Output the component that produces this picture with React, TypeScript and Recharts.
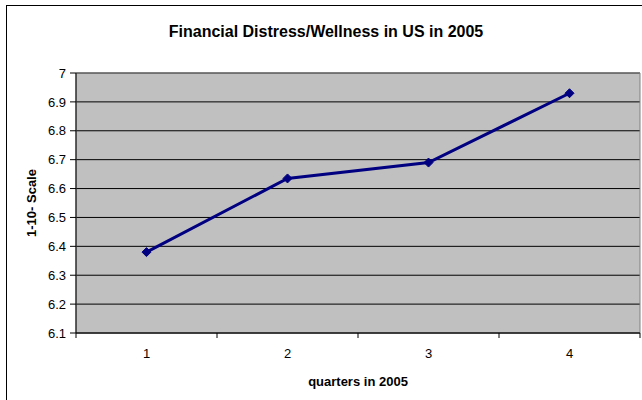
import { LineChart, Line, XAxis, YAxis, CartesianGrid, ReferenceArea } from 'recharts';

const quarters = [1, 2, 3, 4];
const scores = [6.38, 6.635, 6.69, 6.93];
const yTicks = [6.1, 6.2, 6.3, 6.4, 6.5, 6.6, 6.7, 6.8, 6.9, 7];
// category labels sit on the integers, tick marks between them (Excel style)
const xTicks = [0.5, 1, 1.5, 2, 2.5, 3, 3.5, 4, 4.5];

const data = quarters.map((q, i) => ({ quarter: q, score: scores[i] }));

const font = '"Liberation Sans", Arial, sans-serif';

function QuarterTick(props: any) {
  const { x, y, payload } = props;
  const v = payload.value;
  if (Number.isInteger(v)) {
    return (
      <text x={x} y={y + 25} textAnchor="middle" fontSize={13} fill="#000">
        {v}
      </text>
    );
  }
  return <line x1={x} x2={x} y1={y} y2={y + 5} stroke="#000" />;
}

function Diamond(props: any) {
  const { cx, cy } = props;
  if (cx == null || cy == null) return null;
  const r = 4.5;
  return (
    <polygon
      points={`${cx},${cy - r} ${cx + r},${cy} ${cx},${cy + r} ${cx - r},${cy}`}
      fill="#000080"
      stroke="#000080"
    />
  );
}

export default function App() {
  return (
    <div
      style={{
        position: 'fixed',
        left: 0,
        top: 0,
        width: 642,
        height: 400,
        overflow: 'hidden',
        background: '#fff',
        fontFamily: font,
      }}
    >
      <div
        style={{
          position: 'absolute',
          left: 6,
          top: 5,
          width: 700,
          height: 450,
          border: '1px solid #000',
        }}
      />
      <div
        style={{
          position: 'absolute',
          left: 0,
          top: 22,
          width: 652,
          textAlign: 'center',
          fontWeight: 'bold',
          fontSize: 16,
          lineHeight: '20px',
          color: '#000',
        }}
      >
        Financial Distress/Wellness in US in 2005
      </div>
      <div style={{ position: 'absolute', left: 0, top: 0 }}>
        <LineChart width={642} height={400} data={data} margin={{ top: 73, right: 2, bottom: 0, left: 0 }}>
          <CartesianGrid vertical={false} stroke="#000" fill="#C0C0C0" fillOpacity={1} />
          <ReferenceArea x1={0.5} x2={4.5} y1={6.1} y2={7} fill="none" stroke="#808080" />
          <XAxis
            type="number"
            dataKey="quarter"
            domain={[0.5, 4.5]}
            ticks={xTicks}
            interval={0}
            tickSize={0}
            tickMargin={0}
            tickLine={false}
            axisLine={{ stroke: '#000' }}
            tick={<QuarterTick />}
            height={67}
          />
          <YAxis
            domain={[6.1, 7]}
            ticks={yTicks}
            interval={0}
            width={76}
            tickSize={6}
            tickMargin={4}
            axisLine={{ stroke: '#000' }}
            tickLine={{ stroke: '#000' }}
            tick={{ fill: '#000', fontSize: 13 }}
          />
          <Line
            type="linear"
            dataKey="score"
            stroke="#000080"
            strokeWidth={3}
            dot={<Diamond />}
            activeDot={false}
            isAnimationActive={false}
          />
        </LineChart>
      </div>
      <div
        style={{
          position: 'absolute',
          left: 31,
          top: 203,
          transform: 'translate(-50%, -50%) rotate(-90deg)',
          fontWeight: 'bold',
          fontSize: 13,
          whiteSpace: 'nowrap',
          color: '#000',
        }}
      >
        1-10- Scale
      </div>
      <div
        style={{
          position: 'absolute',
          left: 358,
          top: 381,
          transform: 'translate(-50%, -50%)',
          fontWeight: 'bold',
          fontSize: 13,
          whiteSpace: 'nowrap',
          color: '#000',
        }}
      >
        quarters in 2005
      </div>
    </div>
  );
}
